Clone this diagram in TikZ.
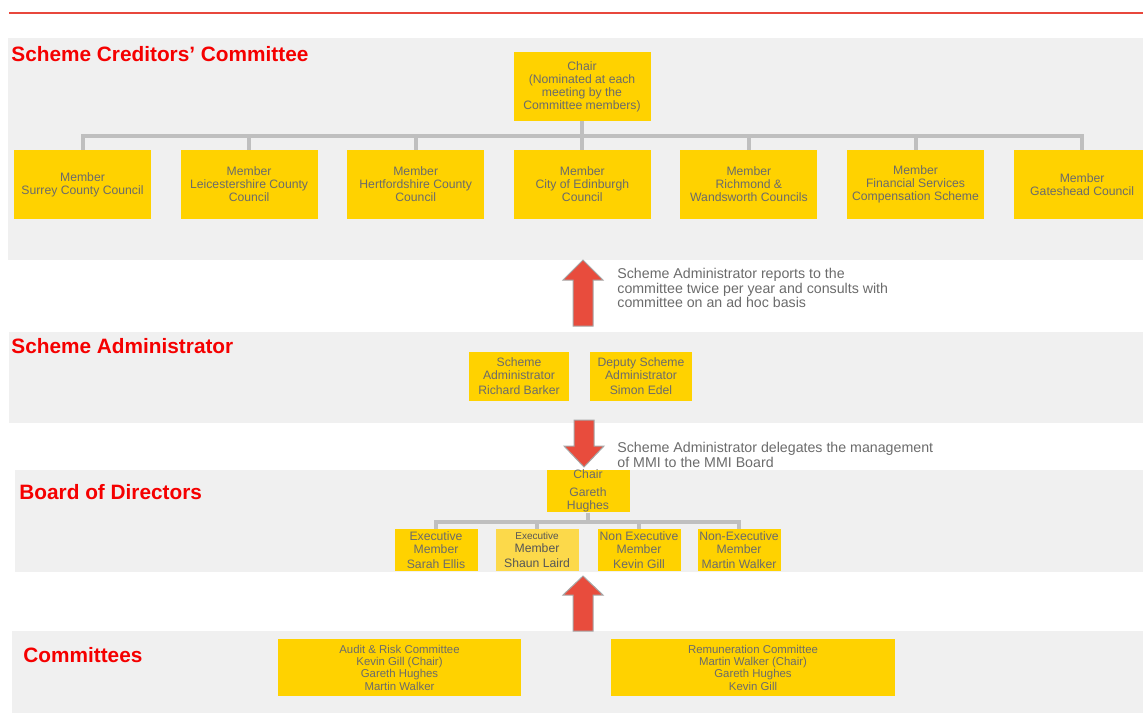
\documentclass[tikz,border=0pt]{standalone}
\usepackage{fontspec}
\setmainfont{Liberation Sans}
\usetikzlibrary{positioning}

\definecolor{bandgray}{HTML}{F0F0F0}
\definecolor{boxyellow}{HTML}{FFD200}
\definecolor{paleyellow}{HTML}{FCD94A}
\definecolor{boxtext}{HTML}{6B6B6B}
\definecolor{titlered}{HTML}{F50000}
\definecolor{rulered}{HTML}{E8473C}
\definecolor{treegray}{HTML}{BFBFBF}
\definecolor{arrowred}{HTML}{E84C3D}

\begin{document}
\begin{tikzpicture}[x=0.5pt,y=-0.5pt,on grid,
   heading/.style={anchor=base west,inner sep=0,text=titlered,font=\fontsize{10.4}{12}\selectfont\bfseries},
   member/.style={fill=boxyellow,text=boxtext,align=center,inner sep=0,minimum width=68.5pt,minimum height=34.5pt,font=\fontsize{6.1}{6.5}\selectfont},
   admin/.style={member,minimum width=50pt,minimum height=24.5pt},
   director/.style={member,minimum width=41.5pt,minimum height=21pt},
   committee/.style={member,minimum height=28.5pt,font=\fontsize{5.7}{6.15}\selectfont},
   note/.style={anchor=north west,inner sep=0,align=left,text=boxtext,font=\fontsize{7.1}{7.3}\selectfont},
   tree/.style={draw=treegray,line width=2pt},
   bigarrow/.style={fill=arrowred,draw=gray!70,line width=0.5pt}]
   \useasboundingbox (0,0) rectangle (1143,724);

   % bands
   \draw[rulered,line width=1pt] (9,13) -- (1143,13);
   \fill[bandgray] (8,38) rectangle (1143,260);
   \fill[bandgray] (9,332) rectangle (1143,423);
   \fill[bandgray] (15,470) rectangle (1143,572);
   \fill[bandgray] (12,631) rectangle (1143,713);

   \node[heading] (scctitle) at (11,61) {Scheme Creditors’ Committee};
   \node[heading] (admintitle) at (11,353) {Scheme Administrator};
   \node[heading] (boardtitle) at (19,499) {Board of Directors};
   \node[heading] (comtitle) at (23,662) {Committees};

   % scheme creditors' committee
   \node[member] (sccchair) at (582,86.5) {Chair\\(Nominated at each\\meeting by the\\Committee members)};
   \node[member] (surrey) at (82.5,184.5) {Member\\Surrey County Council};
   \node[member] (leics) [right=83.3pt of surrey] {Member\\Leicestershire County\\Council};
   \node[member] (herts) [right=83.3pt of leics] {Member\\Hertfordshire County\\Council};
   \node[member] (edinburgh) [right=83.3pt of herts] {Member\\City of Edinburgh\\Council};
   \node[member] (richmond) [right=83.3pt of edinburgh] {Member\\Richmond \&\\Wandsworth Councils};
   \node[member] (fscs) [right=83.3pt of richmond] {Member\\Financial Services\\Compensation Scheme};
   \node[member] (gateshead) [right=83.3pt of fscs] {Member\\Gateshead Council};
   \coordinate (sccbus) at (582,136);
   \draw[tree] (sccchair.south) -- (sccbus)
      (surrey.north) |- (sccbus) -| (gateshead.north)
      (leics.north) -- (leics.north |- sccbus)
      (herts.north) -- (herts.north |- sccbus)
      (edinburgh.north) -- (edinburgh.north |- sccbus)
      (richmond.north) -- (richmond.north |- sccbus)
      (fscs.north) -- (fscs.north |- sccbus);

   % scheme administrator
   \node[admin] (administrator) at (519,376.5) {Scheme\\Administrator\\[1pt]Richard Barker};
   \node[admin,minimum width=51pt] (deputy) [right=61pt of administrator] {Deputy Scheme\\Administrator\\[1pt]Simon Edel};

   \draw[bigarrow] (573,326) -- (573,280) -- (563,280) -- (583,260) -- (603,280) -- (593,280) -- (593,326) -- cycle;
   \node[note] (reports) at (617,268) {Scheme Administrator reports to the\\committee twice per year and consults with\\committee on an ad hoc basis};

   \draw[bigarrow] (574,420) -- (574,446) -- (564,446) -- (584,467) -- (604,446) -- (594,446) -- (594,420) -- cycle;
   \node[note] (delegates) at (617,442) {Scheme Administrator delegates the management\\of MMI to the MMI Board};

   % board of directors
   \node[director] (boardchair) at (588,491) {Chair\\[2.5pt]Gareth\\Hughes};
   \node[director] (ellis) at (436,550) {Executive\\Member\\[1pt]Sarah Ellis};
   \node[director,fill=paleyellow,text=boxtext!80!black] (laird) [right=50.5pt of ellis] {{\fontsize{5}{5}\selectfont Executive}\\Member\\[1pt]Shaun Laird};
   \node[director] (gill) [right=51pt of laird] {Non Executive\\Member\\[1pt]Kevin Gill};
   \node[director] (walker) [right=50pt of gill] {Non-Executive\\Member\\[1pt]Martin Walker};
   \coordinate (boardbus) at (588,522);
   \draw[tree] (boardchair.south) -- (boardbus)
      (ellis.north) |- (boardbus) -| (walker.north)
      (laird.north) -- (laird.north |- boardbus)
      (gill.north) -- (gill.north |- boardbus);

   \draw[bigarrow] (573,631) -- (573,595) -- (563,595) -- (583,576) -- (603,595) -- (593,595) -- (593,631) -- cycle;

   % committees
   \node[committee,minimum width=121.5pt] (audit) at (399.5,667.5) {Audit \& Risk Committee\\Kevin Gill (Chair)\\Gareth Hughes\\Martin Walker};
   \node[committee,minimum width=142pt] (remuneration) at (753,667.5) {Remuneration Committee\\Martin Walker (Chair)\\Gareth Hughes\\Kevin Gill};
\end{tikzpicture}
\end{document}
